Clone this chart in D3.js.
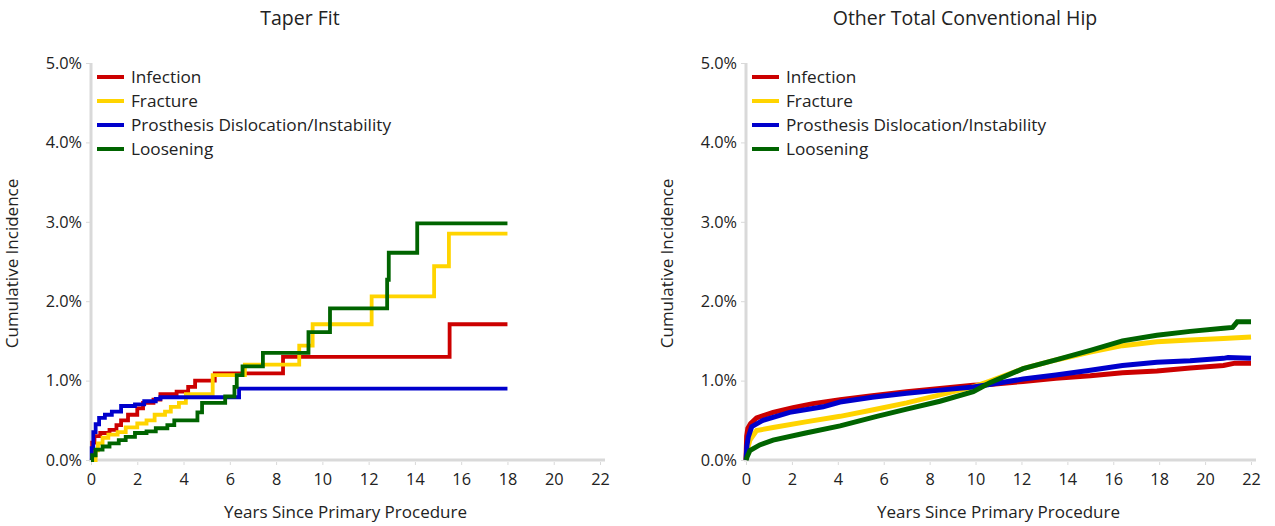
<!DOCTYPE html>
<html>
<head>
<meta charset="utf-8">
<script src="https://cdn.jsdelivr.net/npm/d3@7"></script>
<style>
  body { margin: 0; background: #fff; }
  text { font-family: "Open Sans", "Noto Sans", sans-serif; fill: #222; }
</style>
</head>
<body>
<div id="chart"></div>
<script>
// series names and colours
const seriesNames = ['Infection', 'Fracture', 'Prosthesis Dislocation/Instability', 'Loosening'];
const seriesColors = ['#cc0000', '#ffd400', '#0000cc', '#006400'];
const xTicks = [0, 2, 4, 6, 8, 10, 12, 14, 16, 18, 20, 22];
const yTicks = [0, 1, 2, 3, 4, 5];

// Taper Fit : [years, cumulative %] step points
const taperInfection = [[0,0],[0.05,0.22],[0.15,0.3],[0.4,0.34],[0.8,0.38],[1.1,0.44],[1.3,0.5],[1.6,0.57],[2.0,0.65],[2.25,0.72],[2.7,0.76],[3.0,0.83],[3.7,0.86],[4.2,0.92],[4.5,1.0],[5.35,1.09],[8.3,1.3],[15.5,1.71],[18.0,1.71]];
const taperFracture = [[0,0],[0.2,0.12],[0.3,0.21],[0.5,0.28],[0.75,0.32],[1.15,0.35],[1.5,0.41],[2.0,0.46],[2.4,0.5],[2.75,0.57],[3.2,0.61],[3.45,0.67],[3.8,0.72],[4.1,0.83],[5.26,1.07],[6.65,1.2],[9.0,1.44],[9.58,1.71],[12.13,2.06],[14.83,2.44],[15.47,2.85],[18.0,2.85]];
const taperDislocation = [[0,0],[0.03,0.15],[0.1,0.35],[0.2,0.45],[0.35,0.53],[0.6,0.57],[0.9,0.61],[1.3,0.68],[1.9,0.7],[2.3,0.74],[2.8,0.77],[3.0,0.79],[6.4,0.9],[18.0,0.9]];
const taperLoosening = [[0,0],[0.05,0.06],[0.2,0.13],[0.5,0.17],[0.8,0.21],[1.2,0.25],[1.5,0.29],[1.9,0.34],[2.4,0.36],[2.8,0.4],[3.3,0.44],[3.6,0.5],[4.6,0.6],[4.8,0.72],[5.8,0.8],[6.2,0.92],[6.3,1.07],[6.55,1.18],[7.43,1.35],[9.4,1.61],[10.33,1.91],[12.8,2.27],[12.87,2.61],[14.1,2.98],[18.0,2.98]];

// Other Total Conventional Hip
const otherInfection = [[0,0],[0.03,0.3],[0.08,0.4],[0.2,0.46],[0.46,0.53],[1.18,0.6],[2.05,0.66],[2.92,0.71],[4.1,0.76],[5.5,0.81],[7,0.86],[8.45,0.9],[9.9,0.94],[10.6,0.95],[12.07,0.99],[13.5,1.03],[15,1.06],[16.4,1.1],[17.9,1.12],[19.35,1.16],[20.8,1.19],[21.3,1.22],[22,1.22]];
const otherFracture = [[0,0],[0.05,0.12],[0.17,0.25],[0.46,0.37],[1.18,0.41],[2.6,0.48],[4.1,0.55],[5.5,0.63],[7,0.72],[8.45,0.82],[9.9,0.92],[10.6,0.99],[12.07,1.15],[13.5,1.26],[15,1.36],[16.4,1.44],[17.9,1.49],[19.35,1.51],[20.8,1.53],[22,1.55]];
const otherDislocation = [[0,0],[0.04,0.18],[0.1,0.29],[0.25,0.42],[0.74,0.5],[1.9,0.6],[3.36,0.67],[4.1,0.73],[5.5,0.79],[7,0.84],[8.45,0.88],[9.9,0.92],[10.6,0.95],[12.07,1.02],[13.5,1.07],[15,1.13],[16.4,1.19],[17.9,1.23],[19.35,1.25],[20.8,1.28],[21,1.29],[22,1.28]];
const otherLoosening = [[0,0],[0.05,0.04],[0.17,0.12],[0.6,0.19],[1.18,0.25],[2.6,0.34],[4.1,0.43],[5.7,0.55],[7,0.64],[8.45,0.74],[9.9,0.86],[10.6,0.97],[12.07,1.15],[13.5,1.26],[15,1.38],[16.4,1.5],[17.9,1.57],[19.35,1.62],[20.8,1.66],[21.2,1.67],[21.4,1.74],[22,1.74]];

const panels = [
  {title: 'Taper Fit', titleX: 300, left: 91, right: 600, series: [taperInfection, taperFracture, taperDislocation, taperLoosening], curve: d3.curveStepAfter, lw: 3.8},
  {title: 'Other Total Conventional Hip', titleX: 965, left: 746, right: 1251, series: [otherInfection, otherFracture, otherDislocation, otherLoosening], curve: d3.curveLinear, lw: 5}
];

const svg = d3.select('#chart')
  .append('svg')
  .attr('width', 1275)
  .attr('height', 526);

const yTop = 63, yBottom = 460;

panels.forEach(p => {
  const g = svg.append('g');
  const x = d3.scaleLinear().domain([0, 22]).range([p.left, p.right]);
  const y = d3.scaleLinear().domain([0, 5]).range([yBottom, yTop]);
  const mid = (p.left + p.right) / 2;

  // title
  g.append('text')
    .attr('x', p.titleX)
    .attr('y', 25)
    .attr('text-anchor', 'middle')
    .style('font-size', '19.5px')
    .text(p.title);

  // axes
  const xAxis = g.append('g')
    .attr('transform', `translate(0,${yBottom})`)
    .call(d3.axisBottom(x).tickValues(xTicks).tickSize(5).tickSizeOuter(0));
  xAxis.select('.domain').attr('stroke', '#d9d9d9').attr('stroke-width', 3).attr('d', `M${p.left - 2},0H${p.right + 5}`);
  xAxis.selectAll('.tick line').attr('stroke', '#d9d9d9').attr('y1', 2);
  xAxis.selectAll('.tick text').attr('dy', '1.05em').style('font-size', '16.3px').attr('fill', '#222');

  const yAxis = g.append('g')
    .attr('transform', `translate(${p.left},0)`)
    .call(d3.axisLeft(y).tickValues(yTicks).tickSize(5).tickSizeOuter(0).tickFormat(d => d.toFixed(1) + '%'));
  yAxis.select('.domain').attr('stroke', '#d9d9d9').attr('stroke-width', 3).attr('d', `M0,${yBottom + 1}V${yTop}`);
  yAxis.selectAll('.tick line').attr('stroke', '#d9d9d9');
  yAxis.selectAll('.tick text').attr('x', -9).style('font-size', '16.3px').attr('fill', '#222');

  // axis titles
  g.append('text')
    .attr('x', mid)
    .attr('y', 518)
    .attr('text-anchor', 'middle')
    .style('font-size', '17px')
    .text('Years Since Primary Procedure');
  g.append('text')
    .attr('transform', `translate(${p.left - 73},${(yTop + yBottom) / 2 + 2}) rotate(-90)`)
    .attr('text-anchor', 'middle')
    .style('font-size', '17px')
    .text('Cumulative Incidence');

  // lines
  const line = d3.line().x(d => x(d[0])).y(d => y(d[1])).curve(p.curve);
  g.selectAll('path.series')
    .data(p.series)
    .join('path')
    .attr('class', 'series')
    .attr('d', line)
    .attr('fill', 'none')
    .attr('stroke', (d, i) => seriesColors[i])
    .attr('stroke-width', p.lw)
    .attr('stroke-linejoin', 'miter');

  // legend
  const lg = g.append('g').attr('transform', `translate(${p.left + 6},77)`);
  seriesNames.forEach((name, i) => {
    lg.append('line')
      .attr('x1', 0).attr('x2', 27)
      .attr('y1', i * 24).attr('y2', i * 24)
      .attr('stroke', seriesColors[i])
      .attr('stroke-width', 4);
    lg.append('text')
      .attr('x', 34)
      .attr('y', i * 24)
      .attr('dy', '0.35em')
      .style('font-size', '17.2px')
      .text(name);
  });
});
</script>
</body>
</html>
